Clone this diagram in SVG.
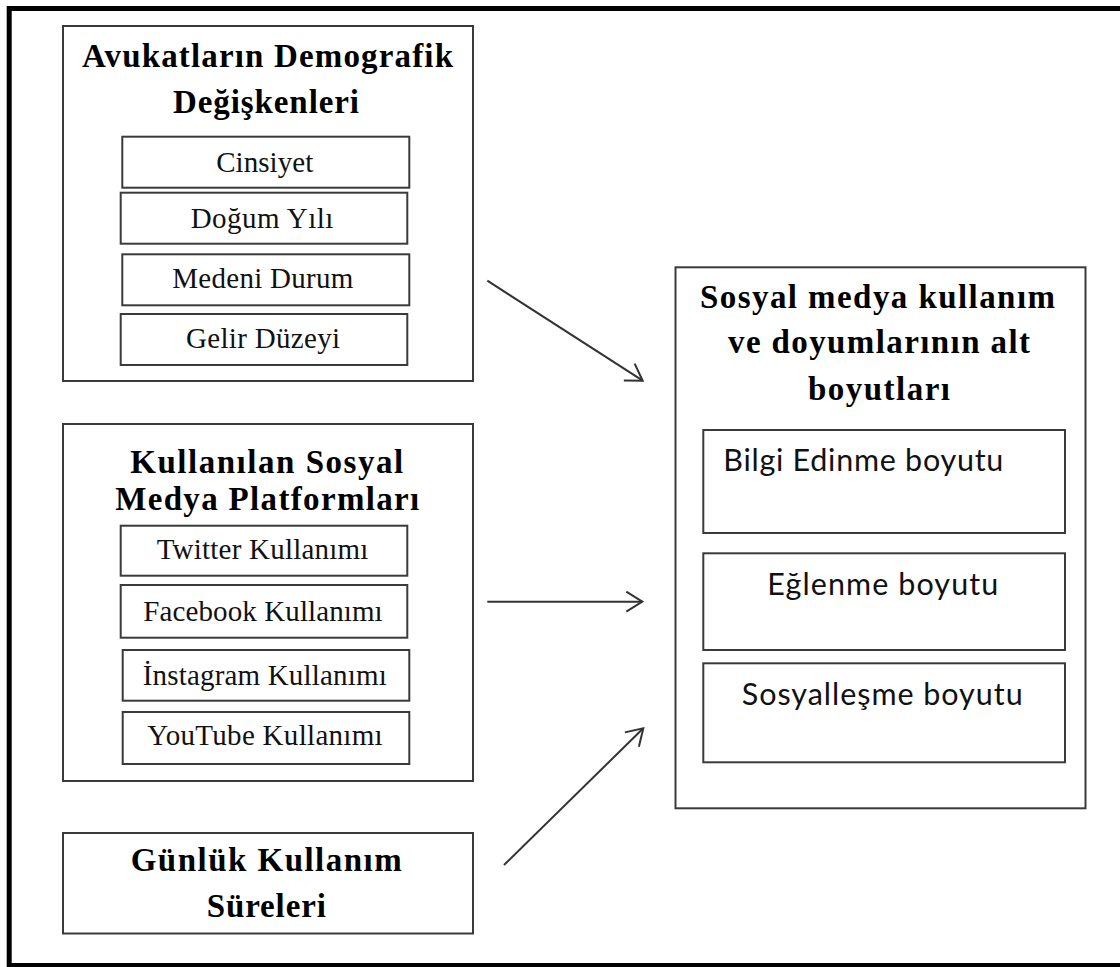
<svg xmlns="http://www.w3.org/2000/svg" width="1120" height="967" viewBox="0 0 1120 967">
<defs>
<style>
.box{fill:#fff;stroke:#3a3a3a;stroke-width:2}
.t{font-family:"Liberation Serif","Times New Roman",serif;font-weight:bold;font-size:33px;fill:#000;text-anchor:middle}
.s{font-family:"Liberation Serif","Times New Roman",serif;font-size:29px;fill:#111;text-anchor:middle}
.c{font-family:Lato,"Open Sans",sans-serif;font-size:30.5px;fill:#111}
.con{fill:none;stroke:#333;stroke-width:2}
</style>
<marker id="arr" markerUnits="userSpaceOnUse" viewBox="-20 -13 22 26" markerWidth="22" markerHeight="26" refX="0" refY="0" orient="auto">
<path d="M-16,-10 L0,0 L-16,10" fill="none" stroke="#333" stroke-width="2" stroke-linejoin="miter"/>
</marker>
</defs>
<rect x="0" y="0" width="1120" height="967" fill="#fff"/>
<rect id="frame" x="9.2" y="8.5" width="1130" height="957" fill="none" stroke="#000" stroke-width="5"/>

<g id="demografik">
<rect class="box" x="63" y="26" width="410" height="355"/>
<text class="t" x="267.5" y="67" textLength="371" lengthAdjust="spacing">Avukatların Demografik</text>
<text class="t" x="266" y="113" textLength="186" lengthAdjust="spacing">Değişkenleri</text>
<g id="cinsiyet"><rect class="box" x="122.3" y="136.7" width="287" height="51"/><text class="s" x="264.7" y="172" textLength="97" lengthAdjust="spacing">Cinsiyet</text></g>
<g id="dogum"><rect class="box" x="120.7" y="192.7" width="286.6" height="51"/><text class="s" x="262" y="227.7" textLength="142.7" lengthAdjust="spacing">Doğum Yılı</text></g>
<g id="medeni"><rect class="box" x="122.3" y="254.3" width="287" height="51"/><text class="s" x="262.8" y="288.3" textLength="181" lengthAdjust="spacing">Medeni Durum</text></g>
<g id="gelir"><rect class="box" x="120.7" y="314" width="286.6" height="51"/><text class="s" x="263" y="348.3" textLength="154" lengthAdjust="spacing">Gelir Düzeyi</text></g>
</g>

<g id="platformlar">
<rect class="box" x="63" y="424" width="410" height="357"/>
<text class="t" x="266.7" y="473.3" textLength="273" lengthAdjust="spacing">Kullanılan Sosyal</text>
<text class="t" x="267.2" y="510" textLength="304" lengthAdjust="spacing">Medya Platformları</text>
<g id="twitter"><rect class="box" x="120.7" y="525.7" width="286.6" height="50"/><text class="s" x="262.5" y="559.3" textLength="211.7" lengthAdjust="spacing">Twitter Kullanımı</text></g>
<g id="facebook"><rect class="box" x="120.7" y="585" width="286.6" height="52.7"/><text class="s" x="263" y="620.7" textLength="239.3" lengthAdjust="spacing">Facebook Kullanımı</text></g>
<g id="instagram"><rect class="box" x="122.7" y="650" width="286.6" height="50.7"/><text class="s" x="264.7" y="685.3" textLength="244" lengthAdjust="spacing">İnstagram Kullanımı</text></g>
<g id="youtube"><rect class="box" x="122.7" y="712" width="286.6" height="52"/><text class="s" x="265" y="745" textLength="235.3" lengthAdjust="spacing">YouTube Kullanımı</text></g>
</g>

<g id="gunluk">
<rect class="box" x="63" y="833" width="410" height="100.5"/>
<text class="t" x="266.2" y="870.7" textLength="271" lengthAdjust="spacing">Günlük Kullanım</text>
<text class="t" x="266.3" y="917.3" textLength="119" lengthAdjust="spacing">Süreleri</text>
</g>

<g id="boyutlar">
<rect class="box" x="675.5" y="267.3" width="410" height="541"/>
<text class="t" x="877.5" y="308.3" textLength="355" lengthAdjust="spacing">Sosyal medya kullanım</text>
<text class="t" x="879" y="353.3" textLength="302" lengthAdjust="spacing">ve doyumlarının alt</text>
<text class="t" x="879" y="400" textLength="142" lengthAdjust="spacing">boyutları</text>
<g id="bilgi"><rect class="box" x="703.3" y="430" width="361.7" height="103"/><text class="c" x="723.3" y="470.7" textLength="280" lengthAdjust="spacing">Bilgi Edinme boyutu</text></g>
<g id="eglenme"><rect class="box" x="703.3" y="553.3" width="361.7" height="96.7"/><text class="c" x="767.3" y="595" textLength="231" lengthAdjust="spacing">Eğlenme boyutu</text></g>
<g id="sosyallesme"><rect class="box" x="703.3" y="663.3" width="361.7" height="99"/><text class="c" x="741.7" y="705" textLength="281" lengthAdjust="spacing">Sosyalleşme boyutu</text></g>
</g>

<g id="connectors">
<line class="con" x1="487.3" y1="280.7" x2="642.7" y2="380.7" marker-end="url(#arr)"/>
<line class="con" x1="487.3" y1="601.7" x2="642.3" y2="601.7" marker-end="url(#arr)"/>
<line class="con" x1="504" y1="865" x2="643.3" y2="728.3" marker-end="url(#arr)"/>
</g>
</svg>
